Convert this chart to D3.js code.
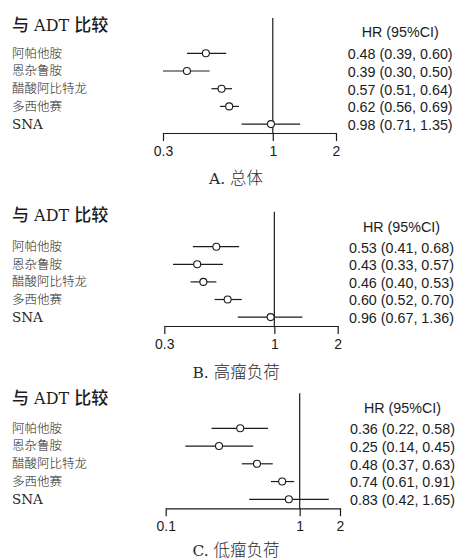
<!DOCTYPE html>
<html>
<head>
<meta charset="utf-8">
<script src="https://cdn.jsdelivr.net/npm/d3@7"></script>
<style>
  body { margin: 0; background: #fff; }
</style>
</head>
<body>
<svg width="457" height="560"></svg>
<script>
// forest plots: HR vs ADT, three subgroups
const drugs = ['阿帕他胺', '恩杂鲁胺', '醋酸阿比特龙', '多西他赛', 'SNA'];

const hrA = [0.48, 0.39, 0.57, 0.62, 0.98];
const loA = [0.39, 0.30, 0.51, 0.56, 0.71];
const hiA = [0.60, 0.50, 0.64, 0.69, 1.35];

const hrB = [0.53, 0.43, 0.46, 0.60, 0.96];
const loB = [0.41, 0.33, 0.40, 0.52, 0.67];
const hiB = [0.68, 0.57, 0.53, 0.70, 1.36];

const hrC = [0.36, 0.25, 0.48, 0.74, 0.83];
const loC = [0.22, 0.14, 0.37, 0.61, 0.42];
const hiC = [0.58, 0.45, 0.63, 0.91, 1.65];

const ticksAB = [0.3, 1, 2];
const ticksC = [0.1, 1, 2];

const captions = [['A.', '总体'], ['B.', '高瘤负荷'], ['C.', '低瘤负荷']];

const svg = d3.select('svg');
const ink = '#1c1c1c';
const latin = '"DejaVu Serif", "Liberation Serif", serif';
const cjk = '"Noto Sans CJK SC", sans-serif';
const sans = '"Liberation Sans", Arial, sans-serif';
const fmt = d3.format('.2f');

// layout of each panel
const panels = [
  { hr: hrA, lo: loA, hi: hiA, ticks: ticksAB, cap: captions[0],
    titleY: 25, headY: 32, refTop: 18, row0: 53.3, step: 17.7, axisY: 133,
    x0: 163, x1: 336, valX: 347.7, capY: 178 },
  { hr: hrB, lo: loB, hi: hiB, ticks: ticksAB, cap: captions[1],
    titleY: 215, headY: 226.7, refTop: 211.7, row0: 246.7, step: 17.6, axisY: 326,
    x0: 164.3, x1: 337.7, valX: 349, capY: 372 },
  { hr: hrC, lo: loC, hi: hiC, ticks: ticksC, cap: captions[2],
    titleY: 398.3, headY: 408.3, refTop: 393.3, row0: 428.3, step: 17.75, axisY: 508.3,
    x0: 165.7, x1: 340, valX: 350, capY: 550 }
];

const drawPanel = p => {
  const g = svg.append('g');
  const rows = drugs.map((d, i) => ({ name: d, hr: p.hr[i], lo: p.lo[i], hi: p.hi[i] }));

  const x = d3.scaleLog()
    .domain([p.ticks[0], p.ticks[p.ticks.length - 1]])
    .range([p.x0, p.x1]);
  const y = d3.scalePoint()
    .domain(drugs)
    .range([p.row0, p.row0 + p.step * (drugs.length - 1)]);

  // title, latin part in serif
  const title = g.append('text')
    .attr('x', 12)
    .attr('y', p.titleY)
    .attr('dy', '0.35em')
    .attr('font-size', 17)
    .attr('fill', ink);
  title.append('tspan').text('与').attr('font-family', cjk).attr('font-weight', 500);
  title.append('tspan').text(' ADT ').attr('font-family', latin).attr('font-size', 16);
  title.append('tspan').text('比较').attr('font-family', cjk).attr('font-weight', 500);

  // row labels
  g.append('g').selectAll('text')
    .data(rows)
    .enter()
    .append('text')
      .text(d => d.name)
      .attr('x', 12)
      .attr('y', d => y(d.name))
      .attr('dy', '0.35em')
      .attr('font-family', d => /^[A-Z]/.test(d.name) ? latin : cjk)
      .attr('font-size', d => /^[A-Z]/.test(d.name) ? 13.5 : 12.5)
      .attr('font-weight', 300)
      .attr('fill', '#262626');

  // reference line at HR = 1
  g.append('line')
    .attr('x1', x(1)).attr('x2', x(1))
    .attr('y1', p.refTop).attr('y2', p.axisY)
    .attr('stroke', ink)
    .attr('stroke-width', 1.2);

  // axis
  const axis = d3.axisBottom(x)
    .tickValues(p.ticks)
    .tickFormat(d => String(d))
    .tickSize(8)
    .tickSizeOuter(0)
    .tickPadding(5);
  const ax = g.append('g')
    .attr('transform', `translate(0,${p.axisY})`)
    .call(axis);
  ax.select('.domain').attr('stroke', ink).attr('stroke-width', 1.2);
  ax.selectAll('.tick line').attr('stroke', ink).attr('stroke-width', 1.2);
  ax.selectAll('.tick text')
    .attr('font-family', sans)
    .attr('font-size', 14)
    .attr('fill', ink);

  // confidence intervals
  g.append('g').selectAll('line')
    .data(rows)
    .enter()
    .append('line')
      .attr('x1', d => x(d.lo))
      .attr('x2', d => x(d.hi))
      .attr('y1', d => y(d.name))
      .attr('y2', d => y(d.name))
      .attr('stroke', ink)
      .attr('stroke-width', 1.2);

  // point estimates
  g.append('g').selectAll('circle')
    .data(rows)
    .enter()
    .append('circle')
      .attr('cx', d => x(d.hr))
      .attr('cy', d => y(d.name))
      .attr('r', 3.5)
      .attr('fill', '#fff')
      .attr('stroke', ink)
      .attr('stroke-width', 1.1);

  // HR column
  g.append('text')
    .text('HR (95%CI)')
    .attr('x', p.valX + 52.5)
    .attr('y', p.headY)
    .attr('dy', '0.35em')
    .attr('text-anchor', 'middle')
    .attr('font-family', sans)
    .attr('font-size', 14.3)
    .attr('fill', ink);

  g.append('g').selectAll('text')
    .data(rows)
    .enter()
    .append('text')
      .text(d => `${fmt(d.hr)} (${fmt(d.lo)}, ${fmt(d.hi)})`)
      .attr('x', p.valX)
      .attr('y', d => y(d.name) + 0.8)
      .attr('dy', '0.35em')
      .attr('font-family', sans)
      .attr('font-size', 14.3)
      .attr('fill', ink);

  // caption
  const cap = g.append('text')
    .attr('x', 236)
    .attr('y', p.capY)
    .attr('dy', '0.35em')
    .attr('text-anchor', 'middle')
    .attr('font-size', 16.5)
    .attr('fill', '#2a2a2a');
  cap.append('tspan').text(p.cap[0] + ' ').attr('font-family', latin).attr('font-size', 15.5);
  cap.append('tspan').text(p.cap[1]).attr('font-family', cjk).attr('font-weight', 300);
};

panels.forEach(drawPanel);
</script>
</body>
</html>
